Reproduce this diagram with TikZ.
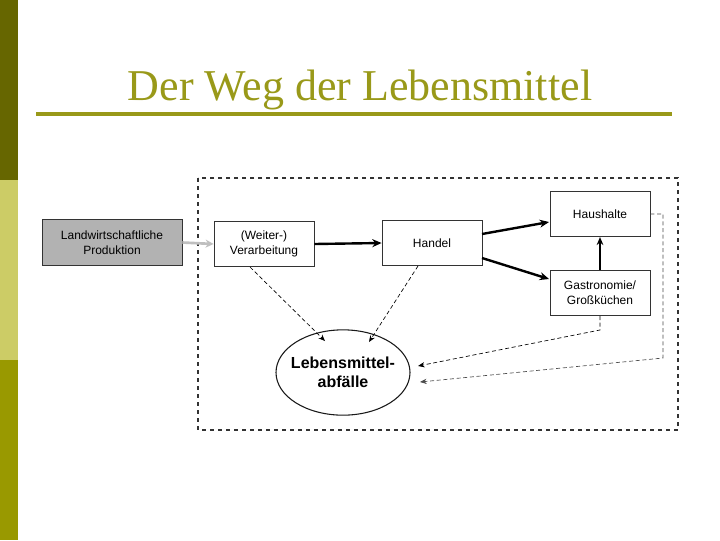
\documentclass[tikz,border=0pt]{standalone}
\usepackage{fontspec}
\setmainfont{Liberation Sans}
\newfontfamily\titlefont{Liberation Serif}
\usetikzlibrary{arrows.meta,shapes.geometric}
\definecolor{olivedark}{RGB}{102,102,0}
\definecolor{olivelight}{RGB}{204,204,102}
\definecolor{olivemid}{RGB}{153,153,0}
\definecolor{titlecol}{RGB}{153,153,25}
\tikzset{
  box/.style={draw=black!80, line width=0.6pt, fill=white, minimum width=75pt, minimum height=34pt, align=center, font=\fontsize{9pt}{11pt}\selectfont, inner sep=1pt},
  thick arrow/.style={line width=1.8pt, -{Stealth[length=7pt,width=6pt]}},
  waste/.style={densely dashed, line width=0.5pt, -{Stealth[length=5pt,width=4pt]}},
}
\begin{document}
\begin{tikzpicture}[x=0.75pt,y=-0.75pt]
\useasboundingbox (0,0) rectangle (720,540);
\fill[white] (0,0) rectangle (720,540);
% side bar
\fill[olivedark] (0,0) rectangle (18,180);
\fill[olivelight] (0,180) rectangle (18,360);
\fill[olivemid] (0,360) rectangle (18,540);
% title
\node[font=\titlefont\fontsize{33pt}{38pt}\selectfont, text=titlecol, anchor=base] (title) at (360,100) {Der Weg der Lebensmittel};
\draw[titlecol, line width=2.3pt] (36,114) -- (672,114);
% outer dashed frame
\draw[dashed, line width=1pt, black!80] (198,178) rectangle (678,430);
% nodes
\node[box, fill=black!30, minimum width=105pt] (land) at (112,242.5) {Landwirtschaftliche\\Produktion};
\node[box] (verarb) at (264,244) {(Weiter-)\\Verarbeitung};
\node[box] (handel) at (432,243) {Handel};
\node[box] (haus) at (600,214) {Haushalte};
\node[box] (gastro) at (600,293) {Gastronomie/\\Großküchen};
\node[ellipse, draw=black!90, line width=0.8pt, fill=white, inner sep=0pt, minimum width=100.5pt, minimum height=64pt,
  label={[align=center, font=\bfseries\fontsize{12pt}{14pt}\selectfont]center:Lebensmittel-\\abfälle}] (abf) at (343,372.5) {};
% arrows
\draw[black!25, line width=2pt, -{Stealth[length=6pt,width=6pt]}] (land.east) -- (verarb.west);
\draw[thick arrow] (verarb.east) -- (handel.west);
\draw[thick arrow] (482,234) -- (549,222);
\draw[thick arrow] (482,258) -- (549,279);
\draw[line width=1.2pt, -{Stealth[length=6pt,width=5pt]}] (gastro.north) -- (haus.south);
% waste
\draw[waste] (250,267) -- (325,341);
\draw[waste] (418,266) -- (369,342);
\coordinate (g1) at (600,330);
\coordinate (h1) at (663,214);
\coordinate (h2) at (663,358);
\draw[waste] (gastro.south) -- (g1) -- (418,366);
\draw[waste, black!70] (haus.east) -- (h1) -- (h2) -- (420,382);
\end{tikzpicture}
\end{document}
